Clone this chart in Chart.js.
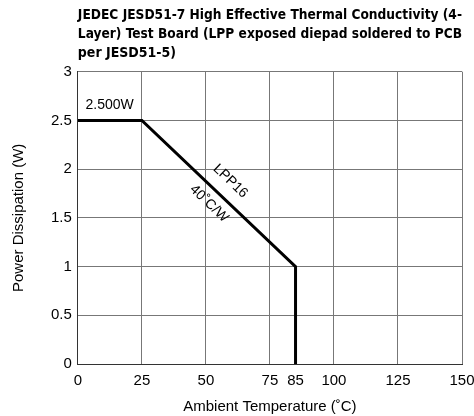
<!DOCTYPE html>
<html>
<head>
<meta charset="utf-8">
<script src="https://cdn.jsdelivr.net/npm/chart.js@4/dist/chart.umd.min.js"></script>
<style>
  html, body { margin: 0; padding: 0; background: #fff; }
  #wrap { width: 474px; height: 416px; }
</style>
</head>
<body>
<div id="wrap"><canvas id="derating" width="474" height="416"></canvas></div>
<script>
// derating curve for the LPP16 package
const tempPoints = [0, 25, 85, 85];
const powerPoints = [2.5, 2.5, 1, 0];
const xTicks = [0, 25, 50, 75, 85, 100, 125, 150];
const yTicks = [0, 0.5, 1, 1.5, 2, 2.5, 3];
const gridX = [0, 25, 50, 75, 100, 125, 150];

const labelFont = "'Liberation Sans', Arial, sans-serif";
const titleFont = "'DejaVu Sans Condensed', 'Liberation Sans', sans-serif";

// text labels on the plot: 2.500W plateau, part name and slope
const notes = {
  id: 'notes',
  afterDatasetsDraw(chart) {
    const { ctx, scales: { x, y } } = chart;
    ctx.save();
    ctx.fillStyle = '#000';
    ctx.font = '14px ' + labelFont;
    ctx.textAlign = 'left';
    ctx.textBaseline = 'alphabetic';
    ctx.fillText('2.500W', x.getPixelForValue(3), y.getPixelForValue(2.62));

    const x0 = x.getPixelForValue(25), y0 = y.getPixelForValue(2.5);
    const x1 = x.getPixelForValue(85), y1 = y.getPixelForValue(1);
    const ang = Math.atan2(y1 - y0, x1 - x0);

    const drawAlong = (text, t, off) => {
      const px = x0 + (x1 - x0) * t, py = y0 + (y1 - y0) * t;
      ctx.save();
      ctx.translate(px - Math.sin(ang) * off, py + Math.cos(ang) * off);
      ctx.rotate(ang);
      ctx.textAlign = 'center';
      ctx.textBaseline = 'middle';
      ctx.fillText(text, 0, 0);
      ctx.restore();
    };
    drawAlong('LPP16', 0.5, -17);
    drawAlong('40\u02daC/W', 0.5, 14);
    ctx.restore();
  }
};

new Chart(document.getElementById('derating'), {
  type: 'line',
  data: {
    datasets: [{
      data: tempPoints.map((t, i) => ({ x: t, y: powerPoints[i] })),
      borderColor: '#000',
      borderWidth: 3,
      pointRadius: 0,
      tension: 0,
      fill: false
    }]
  },
  options: {
    responsive: false,
    animation: false,
    layout: { padding: { left: 10, right: 0, top: 6, bottom: 0 } },
    plugins: {
      legend: { display: false },
      tooltip: { enabled: false },
      title: {
        display: true,
        fullSize: false,
        align: 'start',
        text: [
          'JEDEC JESD51-7 High Effective Thermal Conductivity (4-',
          'Layer) Test Board (LPP exposed diepad soldered to PCB',
          'per JESD51-5)'
        ],
        color: '#000',
        font: { family: titleFont, size: 14, weight: 'bold', lineHeight: 1.35 },
        padding: { top: 0, bottom: 9 }
      }
    },
    scales: {
      x: {
        type: 'linear',
        min: 0,
        max: 150,
        afterBuildTicks: (s) => { s.ticks = xTicks.map(v => ({ value: v })); },
        // let the "150" label run up to the canvas edge
        afterFit: (s) => { s.paddingRight = 12; },
        ticks: {
          color: '#000',
          font: { family: labelFont, size: 15 },
          padding: 8,
          maxRotation: 0,
          autoSkip: false,
          callback: (v) => String(v)
        },
        grid: {
          color: (c) => gridX.includes(c.tick.value) ? '#777' : 'rgba(0,0,0,0)',
          lineWidth: 1,
          drawTicks: false
        },
        border: { color: '#333', width: 1 },
        title: {
          display: true,
          text: 'Ambient Temperature (\u02daC)',
          color: '#000',
          font: { family: labelFont, size: 15 },
          padding: { top: 0, bottom: 0 }
        }
      },
      y: {
        type: 'linear',
        min: 0,
        max: 3,
        afterBuildTicks: (s) => { s.ticks = yTicks.map(v => ({ value: v })); },
        ticks: {
          color: '#000',
          font: { family: labelFont, size: 15 },
          padding: 6,
          callback: (v) => String(v)
        },
        grid: { color: '#777', lineWidth: 1, drawTicks: false },
        border: { color: '#333', width: 1 },
        title: {
          display: true,
          text: 'Power Dissipation (W)',
          color: '#000',
          font: { family: labelFont, size: 15 },
          padding: { top: 0, bottom: 17 }
        }
      }
    }
  },
  plugins: [notes]
});
</script>
</body>
</html>
